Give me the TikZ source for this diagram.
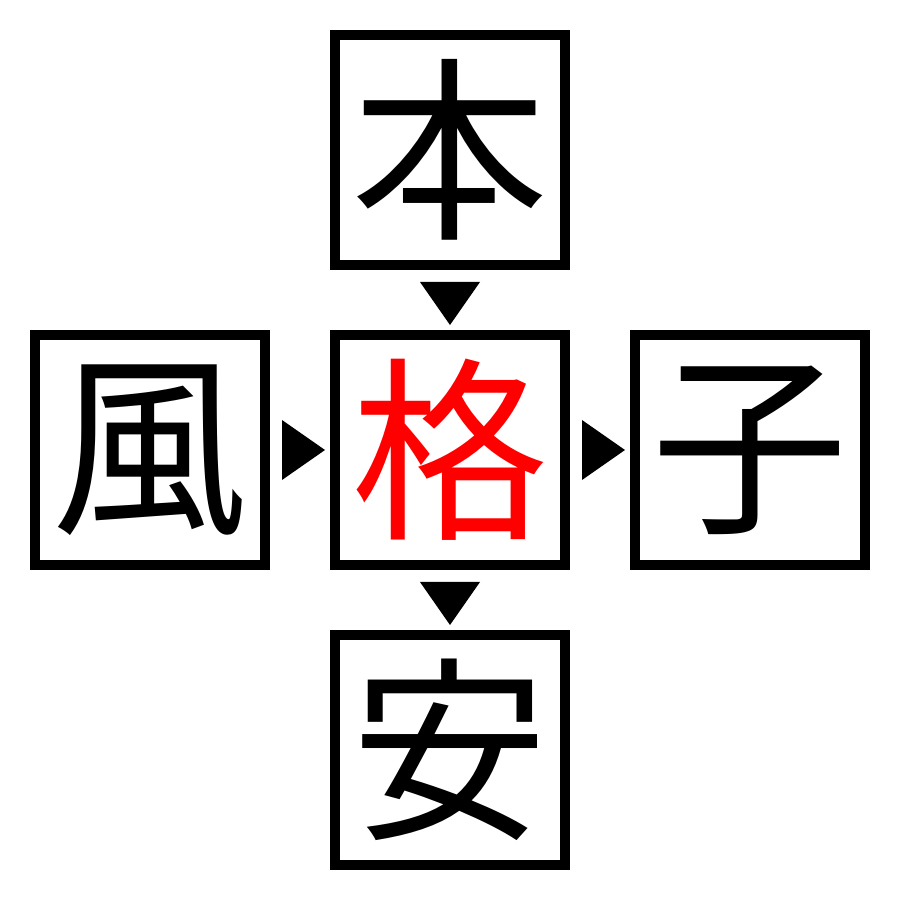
\documentclass[tikz,border=0pt]{standalone}
\usepackage{fontspec}
\newfontfamily\jpfont{Noto Sans CJK JP}
\usetikzlibrary{calc}

\begin{document}
\begin{tikzpicture}[
  kanji/.style={draw,line width=0.1cm,minimum size=2.3cm,inner sep=0pt,font=\jpfont\fontsize{56}{56}\selectfont},
  pointer/.style={fill=black}]
\useasboundingbox (0,0) rectangle (9,9);
\pgfmathsetmacro{\gap}{3}
%boxes
\node[kanji,text=red](kaku) at (4.5,4.5){格};
\node[kanji](hon) at (4.5,4.5+\gap){本};
\node[kanji](an) at (4.5,4.5-\gap){安};
\node[kanji](fu) at (4.5-\gap,4.5){風};
\node[kanji](ko) at (4.5+\gap,4.5){子};
%pointers
\foreach \src in {hon,kaku}
  \fill[pointer] ($(\src.south)+(-0.3,-0.12)$)--++(0.6,0)--($(\src.south)+(0,-0.55)$)--cycle;
\foreach \src in {fu,kaku}
  \fill[pointer] ($(\src.east)+(0.12,0.3)$)--++(0,-0.6)--($(\src.east)+(0.55,0)$)--cycle;
\end{tikzpicture}
\end{document}
